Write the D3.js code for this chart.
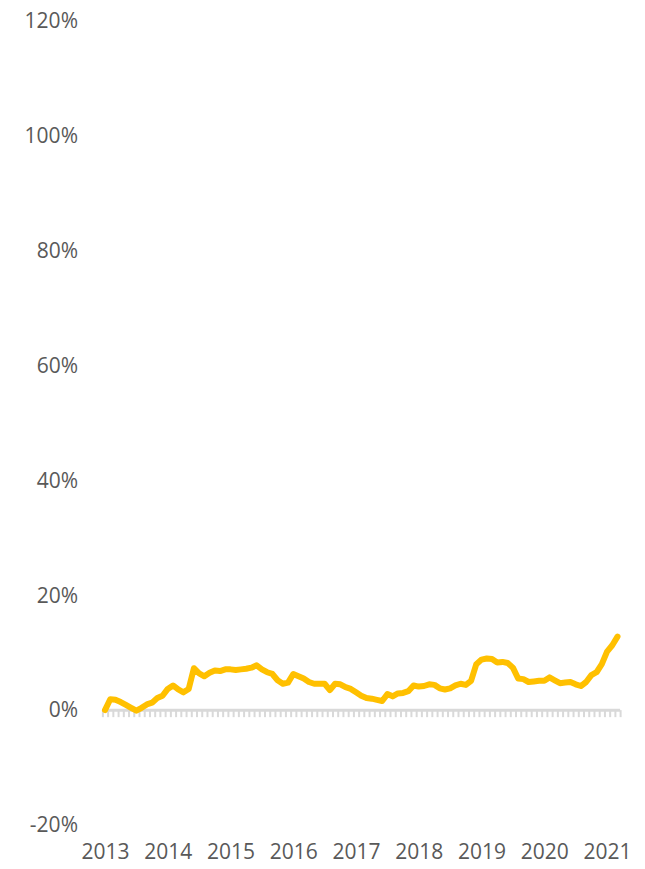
<!DOCTYPE html>
<html>
<head>
  <meta charset="utf-8">
  <title>Monthly change</title>
  <script src="https://d3js.org/d3.v7.min.js"></script>

  <style>
  body {
    margin: 0;
    background: white;
  }

  text {
    font-family: 'Open Sans', sans-serif;
    fill: #595959;
  }
  </style>
</head>
<body>

  <div id='container'></div>

  <script>

  // one value per month, Jan 2013 .. Mar 2021 (percent)
  var values = [
    0.0, 1.9, 1.8, 1.4, 0.9, 0.4, -0.1, 0.4, 1.0, 1.3, 2.1, 2.5,
    3.7, 4.3, 3.6, 3.1, 3.7, 7.3, 6.4, 5.9, 6.5, 6.9, 6.8, 7.1,
    7.1, 7.0, 7.1, 7.2, 7.4, 7.8, 7.1, 6.6, 6.3, 5.2, 4.6, 4.8,
    6.3, 5.9, 5.5, 4.9, 4.6, 4.6, 4.6, 3.5, 4.6, 4.5, 4.0, 3.7,
    3.1, 2.5, 2.1, 2.0, 1.8, 1.6, 2.8, 2.4, 2.9, 3.0, 3.3, 4.3,
    4.1, 4.2, 4.5, 4.4, 3.8, 3.6, 3.8, 4.3, 4.6, 4.4, 5.1, 8.0,
    8.8, 9.0, 8.9, 8.3, 8.4, 8.2, 7.4, 5.5, 5.4, 4.9, 5.0, 5.1,
    5.1, 5.7, 5.2, 4.7, 4.8, 4.9, 4.5, 4.2, 4.9, 6.1, 6.6, 8.0,
    10.2, 11.3, 12.8
  ]

  var years = ['2013', '2014', '2015', '2016', '2017', '2018', '2019', '2020', '2021']

  var yTicks = [-20, 0, 20, 40, 60, 80, 100, 120]

  const width = 645
  const height = 869

  var svg = d3.select('#container')
    .append('svg')
    .attr('width', width)
    .attr('height', height)

  var xScale = d3.scaleLinear()
    .domain([0, values.length - 1])
    .range([105, 617.5])

  var yScale = d3.scaleLinear()
    .domain([-20, 120])
    .range([825, 21])

  // y labels
  var yAxis = d3.axisLeft(yScale)
    .tickValues(yTicks)
    .tickSize(0)
    .tickPadding(8)
    .tickFormat((d) => d + '%')

  svg.append('g')
    .attr('transform', 'translate(86,0)')
    .call(yAxis)
    .call((g) => g.select('.domain').remove())
    .selectAll('text')
    .style('font-size', '21px')
    .style('fill', '#595959')

  // month tick marks on the zero line
  var bounds = d3.range(values.length + 1).map((i) => i - 0.5)

  var monthAxis = d3.axisBottom(xScale)
    .tickValues(bounds)
    .tickSize(7)
    .tickSizeOuter(0)
    .tickFormat('')

  var zeroG = svg.append('g')
    .attr('transform', 'translate(0,' + yScale(0) + ')')
    .call(monthAxis)

  zeroG.select('.domain')
    .attr('d', 'M' + xScale(-0.5) + ',0H' + xScale(values.length - 0.5))
    .style('stroke', '#d9d9d9')
    .style('stroke-width', 3)

  zeroG.selectAll('.tick line')
    .style('stroke', '#d9d9d9')
    .style('stroke-width', 2)

  // year labels at the bottom
  var yearAxis = d3.axisBottom(xScale)
    .tickValues(years.map((y, i) => i * 12))
    .tickSize(0)
    .tickPadding(19)
    .tickFormat((d, i) => years[i])

  svg.append('g')
    .attr('transform', 'translate(0,' + yScale(-20) + ')')
    .call(yearAxis)
    .call((g) => g.select('.domain').remove())
    .selectAll('text')
    .style('font-size', '21px')
    .style('fill', '#595959')

  var line = d3.line()
    .x((d, i) => xScale(i))
    .y((d) => yScale(d))

  svg.append('path')
    .datum(values)
    .attr('d', line)
    .style('fill', 'none')
    .style('stroke', '#ffc000')
    .style('stroke-width', 6)
    .style('stroke-linejoin', 'round')
    .style('stroke-linecap', 'round')

  </script>
</body>
</html>
